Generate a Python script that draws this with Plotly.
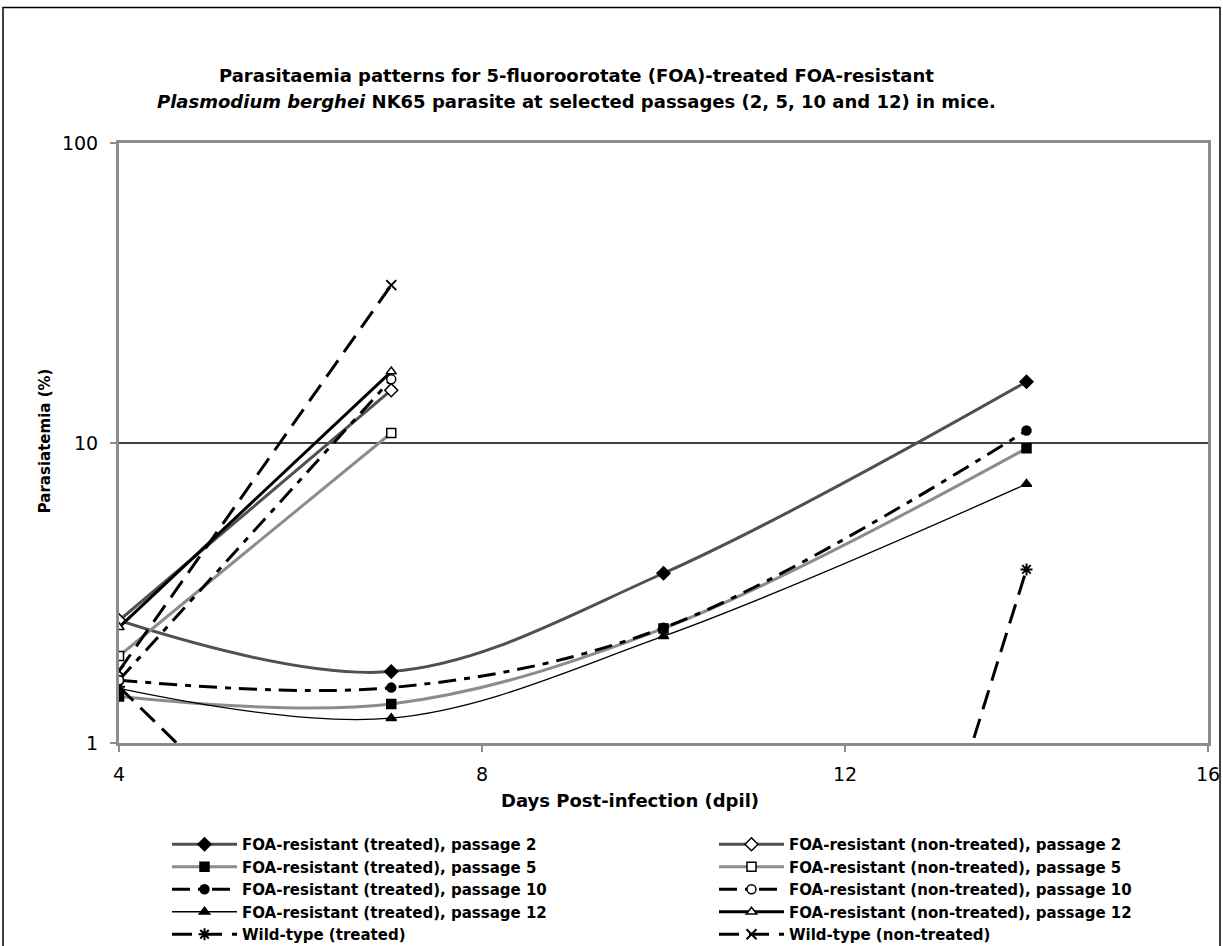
import plotly.graph_objects as go

# ---- data ----
days = [4, 7, 10, 14]
days_nt = [4, 7]

treated_p2 = [2.56, 1.73, 3.68, 16.0]
treated_p5 = [1.43, 1.35, 2.41, 9.6]
treated_p10 = [1.62, 1.53, 2.42, 11.0]
treated_p12 = [1.52, 1.21, 2.27, 7.3]
wild_treated = [1.54, 0.2, 0.0005, 3.79]

nontreated_p2 = [2.56, 15.0]
nontreated_p5 = [1.95, 10.8]
nontreated_p10 = [1.62, 16.3]
nontreated_p12 = [2.43, 17.3]
wild_nontreated = [1.74, 33.6]

x_ticks = [4, 8, 12, 16]
y_ticks = [1, 10, 100]

# ---- geometry helpers (pixel -> paper / container) ----
W, H = 1223, 946
L, R, T, B = 119, 1208, 142.5, 743
def px(x):
    return (x - L) / (R - L)
def py(y):
    return (B - y) / (B - T)
def cx(x):
    return x / W
def cy(y):
    return (H - y) / H

FONT = "DejaVu Sans, Liberation Sans, sans-serif"
DARK = "#505050"
GRAY = "#8c8c8c"

fig = go.Figure()

def add(x, y, name, color, width, dash, symbol, filled, legend, shape="spline", msize=9):
    fig.add_trace(go.Scatter(
        x=x, y=y, name=name, mode="lines+markers",
        line=dict(color=color, width=width, dash=dash, shape=shape, smoothing=1.0),
        marker=dict(symbol=symbol, size=msize,
                    color="black" if filled else "white",
                    line=dict(color="black", width=1.5)),
        legend=legend,
    ))

DD = "18px,8px,6px,8px"
LD = "20px,10px"

add(days, treated_p2, "FOA-resistant (treated), passage 2", DARK, 3, "solid", "diamond", True, "legend", msize=10)
add(days, treated_p5, "FOA-resistant (treated), passage 5", GRAY, 3, "solid", "square", True, "legend")
add(days, treated_p10, "FOA-resistant (treated), passage 10", "black", 3, DD, "circle", True, "legend")
add(days, treated_p12, "FOA-resistant (treated), passage 12", "black", 1.3, "solid", "triangle-up", True, "legend")
fig.add_trace(go.Scatter(
    x=days, y=wild_treated, name="Wild-type (treated)", mode="lines+markers",
    line=dict(color="black", width=3, dash=LD),
    marker=dict(symbol="asterisk-open", size=10, color="black", line=dict(color="black", width=2)),
    legend="legend"))

add(days_nt, nontreated_p2, "FOA-resistant (non-treated), passage 2", DARK, 3, "solid", "diamond", False, "legend2", msize=10)
add(days_nt, nontreated_p5, "FOA-resistant (non-treated), passage 5", GRAY, 3, "solid", "square", False, "legend2")
add(days_nt, nontreated_p10, "FOA-resistant (non-treated), passage 10", "black", 3, DD, "circle", False, "legend2")
add(days_nt, nontreated_p12, "FOA-resistant (non-treated), passage 12", "black", 3, "solid", "triangle-up", False, "legend2")
fig.add_trace(go.Scatter(
    x=days_nt, y=wild_nontreated, name="Wild-type (non-treated)", mode="lines+markers",
    line=dict(color="black", width=3, dash=LD),
    marker=dict(symbol="x-thin-open", size=10, color="black", line=dict(color="black", width=2)),
    legend="legend2"))

legend_common = dict(
    orientation="v", yanchor="top", xanchor="left",
    xref="container", yref="container",
    font=dict(family=FONT, size=15, color="black", weight="bold"),
    bgcolor="rgba(0,0,0,0)", tracegroupgap=0, itemwidth=65,
)

fig.update_layout(
    width=W, height=H,
    margin=dict(l=L, r=W - R, t=T, b=H - B, autoexpand=False),
    paper_bgcolor="white", plot_bgcolor="white",
    font=dict(family=FONT, color="black"),
    legend=dict(x=cx(167), y=cy(828), **legend_common),
    legend2=dict(x=cx(714), y=cy(828), **legend_common),
    xaxis=dict(
        range=[4, 16], tickvals=x_ticks, ticktext=[str(v) for v in x_ticks],
        showline=True, mirror=True, linecolor=GRAY, linewidth=3,
        showgrid=False, zeroline=False, automargin=False,
        ticks="outside", ticklen=6, tickwidth=1.5, tickcolor=GRAY,
        tickfont=dict(family=FONT, size=19, color="black"),
        ticklabelstandoff=6,
    ),
    yaxis=dict(
        type="log", range=[0, 2], tickvals=y_ticks, ticktext=[str(v) for v in y_ticks],
        showline=True, mirror=True, linecolor=GRAY, linewidth=3,
        showgrid=True, gridcolor="#404040", gridwidth=1.5, zeroline=False, automargin=False,
        ticks="outside", ticklen=6, tickwidth=1.5, tickcolor=GRAY,
        tickfont=dict(family=FONT, size=19, color="black"),
        ticklabelstandoff=8,
    ),
    annotations=[
        dict(xref="paper", yref="paper", x=px(576), y=py(75), xanchor="center", yanchor="middle",
             text="Parasitaemia patterns for 5-fluoroorotate (FOA)-treated FOA-resistant",
             showarrow=False,
             font=dict(family=FONT, size=18, color="black", weight="bold")),
        dict(xref="paper", yref="paper", x=px(576), y=py(101), xanchor="center", yanchor="middle",
             text="<i>Plasmodium berghei</i> NK65 parasite at selected passages (2, 5, 10 and 12) in mice.",
             showarrow=False,
             font=dict(family=FONT, size=18, color="black", weight="bold")),
        dict(xref="paper", yref="paper", x=px(630), y=py(801), xanchor="center", yanchor="middle",
             text="Days Post-infection (dpil)", showarrow=False,
             font=dict(family=FONT, size=18, color="black", weight="bold")),
        dict(xref="paper", yref="paper", x=px(45), y=py(441), xanchor="center", yanchor="middle",
             text="Parasiatemia (%)", showarrow=False, textangle=-90,
             font=dict(family=FONT, size=15, color="black", weight="bold")),
    ],
    shapes=[
        dict(type="rect", xref="paper", yref="paper",
             x0=px(3), x1=px(1220), y0=py(960), y1=py(7),
             line=dict(color="black", width=1.5), layer="below"),
    ],
)

fig.write_html("out.html", config={"displayModeBar": False},
               post_script="document.body.style.margin='0px';document.body.style.overflow='hidden';")
